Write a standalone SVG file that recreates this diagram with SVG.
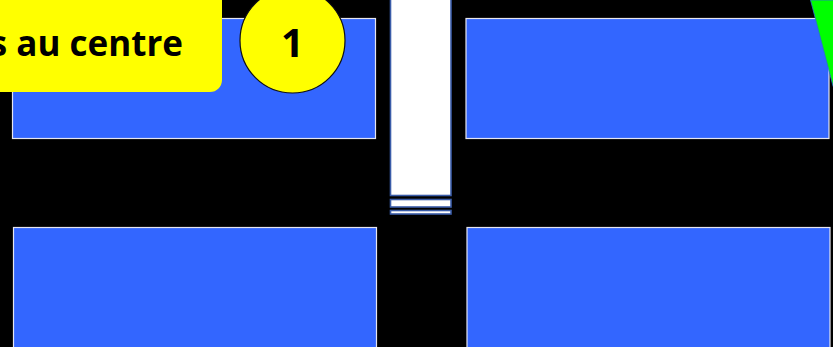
<svg xmlns="http://www.w3.org/2000/svg" width="833" height="347" viewBox="0 0 833 347">
  <style>
    .zone { fill: #3366ff; stroke: #e6e6f0; stroke-width: 1.2; }
    .col { fill: #ffffff; stroke: #3a5ca8; stroke-width: 1.6; }
    .lbl { fill: #ffff00; stroke: #111111; stroke-width: 1.2; }
    .txt { font-family: "Open Sans", "Liberation Sans", sans-serif; font-weight: bold; fill: #000000; }
  </style>
  <rect x="0" y="0" width="833" height="347" fill="#000000"/>
  <g id="zone-top-left"><rect class="zone" x="12.5" y="18.5" width="363" height="120"/></g>
  <g id="zone-top-right"><rect class="zone" x="466" y="18.5" width="363" height="120"/></g>
  <g id="zone-bottom-left"><rect class="zone" x="13.5" y="227.5" width="363" height="130"/></g>
  <g id="zone-bottom-right"><rect class="zone" x="467" y="227.5" width="363" height="130"/></g>
  <g id="column">
    <rect class="col" x="390.5" y="-2" width="60.5" height="197.5"/>
    <rect class="col" x="390.5" y="199.5" width="60.5" height="7.5"/>
    <rect class="col" x="390.5" y="210.5" width="60.5" height="3.5"/>
  </g>
  <g id="connectors"></g>
  <g id="label">
    <rect x="-20" y="-20" width="242" height="112" rx="12" fill="#ffff00"/>
    <text class="txt" x="183" y="56" font-size="35" text-anchor="end">s au centre</text>
  </g>
  <g id="badge">
    <circle class="lbl" cx="292.5" cy="40.5" r="52.5"/>
    <text class="txt" x="292.5" y="57" font-size="40" text-anchor="middle">1</text>
  </g>
  <g id="green-marker">
    <polygon points="810.5,0 840,0 840,100 833,86" fill="#00ff00" stroke="#2a6fd0" stroke-width="0.8"/>
  </g>
</svg>
